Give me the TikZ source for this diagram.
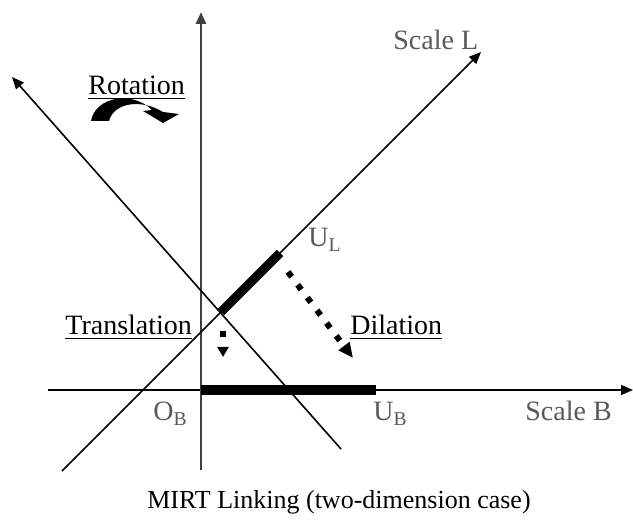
\documentclass[tikz,border=0pt]{standalone}
\usepackage{fontspec}
\setmainfont{Liberation Serif}
\usetikzlibrary{arrows.meta}

\begin{document}
\begin{tikzpicture}[x=0.5pt, y=-0.5pt, every node/.style={font=\fontsize{14}{16}\selectfont, inner sep=0pt, anchor=base west},
	>={Triangle[length=6pt, width=5pt]},
	axisline/.style={line width=0.8pt},
	seglabel/.style={text=black!65},
	moveline/.style={line width=3pt, dash pattern=on 3pt off 5pt}]
	\useasboundingbox (0,0) rectangle (633,524);
	% axes of scale B and the rotated pair
	\coordinate (B0) at (48,390);  \coordinate (B1) at (633,390);
	\coordinate (V0) at (201,470); \coordinate (V1) at (201,12);
	\coordinate (L0) at (62,471);  \coordinate (L1) at (481,52);
	\coordinate (K0) at (341,449); \coordinate (K1) at (12,77);
	\coordinate (OB) at (201,390); \coordinate (UB) at (376,390);
	\coordinate (OL) at (221,312); \coordinate (UL) at (280,253);
	\draw[->, axisline] (B0) -- (B1);
	\draw[->, axisline, line width=1.3pt, black!75] (V0) -- (V1);
	\draw[->, axisline] (L0) -- (L1);
	\draw[->, axisline] (K0) -- (K1);
	\draw[line width=4.5pt] (OB) -- (UB);
	\draw[line width=4.5pt] (OL) -- (UL);
	% labels
	\node[seglabel] (scaleL) at (393,50) {Scale L};
	\node[seglabel] (scaleB) at (525,421) {Scale B};
	\node[seglabel] (uL) at (308,247) {U\textsubscript{L}};
	\node[seglabel] (uB) at (373,421) {U\textsubscript{B}};
	\node[seglabel] (oB) at (153,421) {O\textsubscript{B}};
	\node (rot) at (88,95) {\underline{Rotation}};
	\node (trans) at (65,335) {\underline{Translation}};
	\node (dil) at (350,335) {\underline{Dilation}};
	\node[anchor=base] (caption) at (339,509) {\fontsize{13}{15}\selectfont MIRT Linking (two-dimension case)};
	% moves
	\fill (91,121) .. controls (95,97) and (132,90) .. (152,110) -- (143,111) -- (163,123) -- (179,114)
		-- (163,112) .. controls (142,99) and (114,102) .. (109,121) -- cycle;
	\coordinate (D0) at (288,272); \coordinate (D1) at (353,358);
	\draw[moveline, -{Triangle[length=7.5pt, width=6.5pt]}] (D0) -- (D1);
	\coordinate (T0) at (223,331); \coordinate (T1) at (223,357);
	\draw[moveline, -{Triangle[length=5pt, width=5.5pt]}] (T0) -- (T1);
\end{tikzpicture}
\end{document}
